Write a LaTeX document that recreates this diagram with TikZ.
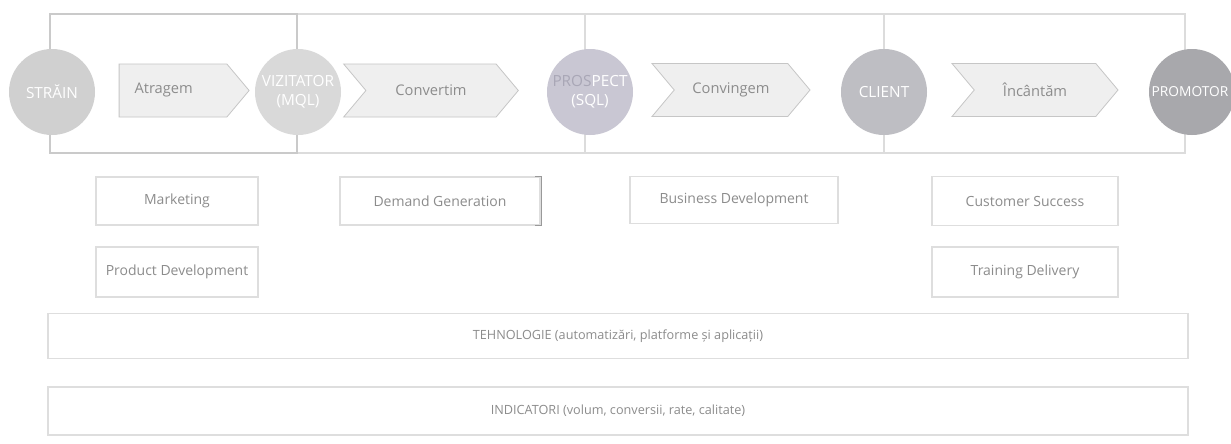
\documentclass[tikz,border=0pt]{standalone}
\usepackage{fontspec}
\setmainfont{Open Sans}
\usetikzlibrary{shapes.symbols}
\definecolor{framegray}{HTML}{DCDCDC}
\definecolor{leftframe}{HTML}{CACACA}
\definecolor{boxline}{HTML}{DEDEDE}
\definecolor{txtgray}{HTML}{8C8C8C}
\definecolor{chevfill}{HTML}{EFEFEF}
\definecolor{chevline}{HTML}{C6C6C6}
\definecolor{cA}{HTML}{D0D0D0}
\definecolor{cB}{HTML}{D9D9D9}
\definecolor{cC}{HTML}{C9C7D3}
\definecolor{cD}{HTML}{BEBEC3}
\definecolor{cE}{HTML}{A8A8AC}
\definecolor{pros}{HTML}{A9A7B6}
\begin{document}
\begin{tikzpicture}[x=0.75pt,y=-0.75pt,
  frameline/.style={draw=framegray, line width=0.8pt},
  stage/.style={circle, minimum size=64.5pt, inner sep=0pt, text=white, font=\fontsize{11.5}{14}\selectfont, align=center},
  chev/.style={signal, signal to=east, signal pointer angle=100, fill=chevfill, draw=chevline, line width=0.6pt, minimum height=39.75pt, inner sep=0pt, text=txtgray, font=\fontsize{11}{13}\selectfont},
  team/.style={draw=boxline, line width=0.8pt, fill=white, inner sep=0pt, text=txtgray, font=\fontsize{10.5}{12}\selectfont},
  band/.style={draw=boxline, line width=0.8pt, fill=white, inner sep=0pt, minimum width=855pt, text=txtgray, font=\fontsize{9.5}{11}\selectfont},
  bracketline/.style={draw=gray!80, line width=0.9pt}
]
\clip (0,0) rectangle (1231,443);
\fill[white] (0,0) rectangle (1231,443);

% top frame with section dividers
\draw[frameline] (50,14) rectangle (1185,153);
\draw[draw=leftframe, line width=0.9pt] (50,14) rectangle (297,153);
\draw[frameline] (585,14) -- (585,153);
\draw[frameline] (884,14) -- (884,153);

% chevrons
\node[chev, signal from=nowhere, minimum width=97.5pt] (atr) at (173,90.5) {\hspace*{-14pt}Atragem};
\node[chev, signal from=west, minimum width=131pt] (conv) at (431,90.5) {Convertim};
\node[chev, signal from=west, minimum width=118.5pt] (cvg) at (731,90) {Convingem};
\node[chev, signal from=west, minimum width=124.5pt] (inc) at (1035,90) {Încântăm};

% stage circles
\node[stage, fill=cA] (strain) at (52,92) {STRĂIN};
\node[stage, fill=cB] (viz) at (298,92) {VIZITATOR\\(MQL)};
\node[stage, fill=cC] (pro) at (590,92) {\textcolor{pros}{PROS}PECT\\(SQL)};
\node[stage, fill=cD] (cli) at (884,92) {CLIENT};
\node[stage, fill=cE] (prm) at (1192,92) {\hspace*{-3pt}\fontsize{10.3}{12}\selectfont PROMOTOR};

% team boxes
\node[team, minimum width=121.5pt, minimum height=36pt] (mkt) at (177,201) {Marketing};
\node[team, minimum width=150pt, minimum height=36pt] (dg) at (440,201) {Demand Generation};
\node[team, minimum width=156pt, minimum height=35pt] (bd) at (734,200) {Business Development};
\node[team, minimum width=139.5pt, minimum height=36.5pt] (cs) at (1025,201) {Customer Success};
\node[team, minimum width=121.5pt, minimum height=37.5pt] (pd) at (177,272) {Product Development};
\node[team, minimum width=139.5pt, minimum height=37.5pt] (td) at (1025,272) {Training Delivery};
\draw[bracketline] ([xshift=-4pt]dg.north east) -- ([xshift=1pt]dg.north east) -- ([xshift=1pt]dg.south east) -- ([xshift=-4pt]dg.south east);

% bottom bands
\node[band, minimum height=34pt] (teh) at (618,336) {TEHNOLOGIE (automatizări, platforme și aplicații)};
\node[band, minimum height=36pt] (ind) at (618,411) {INDICATORI (volum, conversii, rate, calitate)};
\end{tikzpicture}
\end{document}
